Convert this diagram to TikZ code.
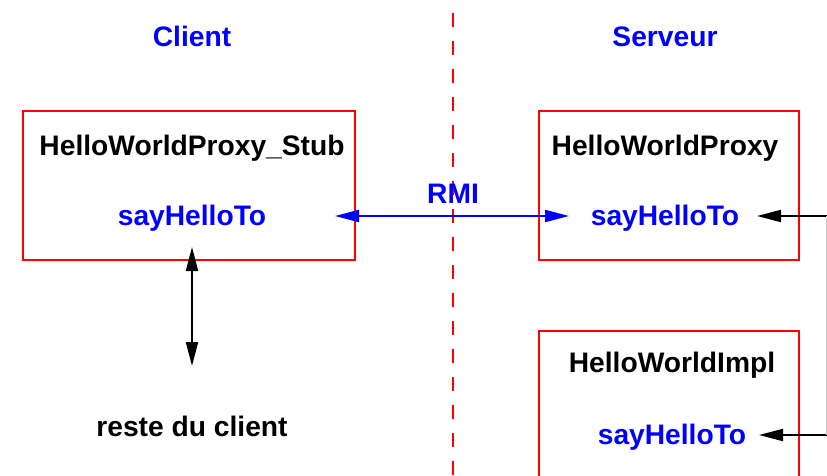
\documentclass[tikz,border=0pt]{standalone}
\usepackage{fontspec}
\setmainfont{Liberation Sans}
\usetikzlibrary{arrows.meta}
\begin{document}
\begin{tikzpicture}[x=1pt,y=-1pt,
  txt/.style={font=\fontsize{28.2}{31}\selectfont\bfseries, inner sep=0pt, anchor=base},
  title/.style={txt, text=blue},
  meth/.style={txt, text=blue},
  obj/.style={txt, text=black},
  box/.style={draw=red, line width=2pt},
  tip/.style={-{Triangle[length=24pt,width=12pt]}},
  dtip/.style={{Triangle[length=24pt,width=12pt]}-{Triangle[length=24pt,width=12pt]}}]
  \useasboundingbox (0,0) rectangle (827,476);
  \clip (0,0) rectangle (827,476);

  % client / server separation
  \draw[red, line width=2.5pt, dash pattern=on 14pt off 14pt] (453,13) -- (453,480);

  \node[title] (client) at (192,47) {Client};
  \node[title] (serveur) at (665,47) {Serveur};

  % boxes
  \draw[box] (23,111) rectangle (355,260);
  \draw[box] (539,111) rectangle (799,260);
  \draw[box] (539,331) rectangle (799,490);

  \node[obj] (stub) at (192,155) {HelloWorldProxy\_Stub};
  \node[meth] (m1) at (192,225) {sayHelloTo};
  \node[obj] (proxy) at (665,155) {HelloWorldProxy};
  \node[meth] (m2) at (665,225) {sayHelloTo};
  \node[obj] (impl) at (672,372) {HelloWorldImpl};
  \node[meth] (m3) at (672,444) {sayHelloTo};
  \node[title] (rmi) at (453,203) {RMI};
  \node[obj] (rest) at (192,436) {reste du client};

  \coordinate (a1) at (335,216);
  \coordinate (a2) at (569,216);
  \draw[blue, line width=2pt, dtip] (a1) -- (a2);

  \coordinate (b1) at (192,247);
  \coordinate (b2) at (192,366);
  \draw[black, line width=2pt, dtip] (b1) -- (b2);

  \coordinate (r1) at (827,216);
  \coordinate (r2) at (827,435);
  \coordinate (t1) at (757,216);
  \coordinate (t2) at (759,435);
  \draw[black, line width=2pt, tip] (r1) -- (t1);
  \draw[black, line width=2pt, tip] (r2) -- (t2);
  \draw[black!20, line width=1pt] (826,216) -- (826,435);
\end{tikzpicture}
\end{document}
